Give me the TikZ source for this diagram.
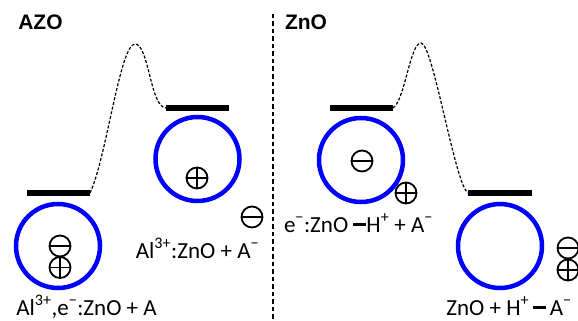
\documentclass[tikz,border=0pt]{standalone}
\usepackage{fontspec}
\setmainfont{Carlito}
\newfontfamily\titlefont{Liberation Sans}
\newcommand{\bondbar}{\rule[6pt]{13pt}{3.2pt}}
\newcommand{\sminus}{\textsuperscript{−}}
\begin{document}
\begin{tikzpicture}[x=1pt,y=-1pt,
  bar/.style={line width=6pt},
  well/.style={circle, draw={rgb,255:red,0;green,0;blue,255}, line width=4.5pt, minimum size=84pt, inner sep=0},
  charge/.style={circle, draw, line width=1.8pt, minimum size=21pt, inner sep=0},
  plus/.style={charge, path picture={\draw[line width=1.8pt] (path picture bounding box.north) -- (path picture bounding box.south) (path picture bounding box.west) -- (path picture bounding box.east);}},
  minus/.style={charge, path picture={\draw[line width=1.8pt] (path picture bounding box.west) -- (path picture bounding box.east);}},
  barrier/.style={dash pattern=on 3pt off 1.8pt, line width=1.2pt},
  divider/.style={dash pattern=on 4.5pt off 3pt, line width=1.2pt},
  lbl/.style={font=\fontsize{23}{27}\selectfont, inner sep=0, anchor=base},
  title/.style={font=\titlefont\bfseries\fontsize{21}{24}\selectfont, inner sep=0}]
\useasboundingbox (0,0) rectangle (578,321);
\clip (0,0) rectangle (578,321);

% divider
\coordinate (dtop) at (273,14);
\coordinate (dbot) at (273,321);
\draw[divider] (dtop) -- (dbot);

% titles
\node[title] (tAZO) at (40.5,22) {AZO};
\node[title] (tZnO) at (306,22) {ZnO};

% left panel levels
\coordinate (b1l) at (27,193);
\coordinate (b1r) at (90,193);
\coordinate (b2l) at (166,108);
\coordinate (b2r) at (229,108);
\draw[bar] (b1l) -- (b1r);
\draw[bar] (b2l) -- (b2r);
\draw[barrier] (b1r) .. controls (106,160) and (120,44) .. (135,44)
  .. controls (149,44) and (150,107) .. (b2l);

% right panel levels
\coordinate (b3l) at (330,108);
\coordinate (b3r) at (393,108);
\coordinate (b4l) at (468,193);
\coordinate (b4r) at (532,193);
\draw[bar] (b3l) -- (b3r);
\draw[bar] (b4l) -- (b4r);
\draw[barrier] (b3r) .. controls (405,100) and (410,43) .. (421,43)
  .. controls (433,43) and (455,185) .. (b4l);

% wells
\node[well] (w1) at (58,246) {};
\node[well] (w2) at (197.5,159) {};
\node[well] (w3) at (361,160) {};
\node[well] (w4) at (500,246) {};

% charges
\node[minus] (m1) at (60,246) {};
\node[plus]  (p1) at (60,267.5) {};
\node[plus]  (p2) at (197,178) {};
\node[minus] (m2) at (252,217) {};
\node[minus] (m3) at (362,161) {};
\node[plus]  (p3) at (406,193) {};
\node[minus] (m4) at (568,248) {};
\node[plus]  (p4) at (568,270) {};

% labels
\node[lbl] (l1) at (86.5,315) {Al\textsuperscript{3+},e\sminus:ZnO + A};
\node[lbl] (l2) at (197.5,258) {Al\textsuperscript{3+}:ZnO + A\sminus};
\node[lbl] (l3) at (358.5,232) {e\sminus:ZnO \bondbar H\textsuperscript{+} + A\sminus};
\node[lbl] (l4) at (509,315) {ZnO + H\textsuperscript{+}\,\bondbar\,A\sminus};
\end{tikzpicture}
\end{document}
